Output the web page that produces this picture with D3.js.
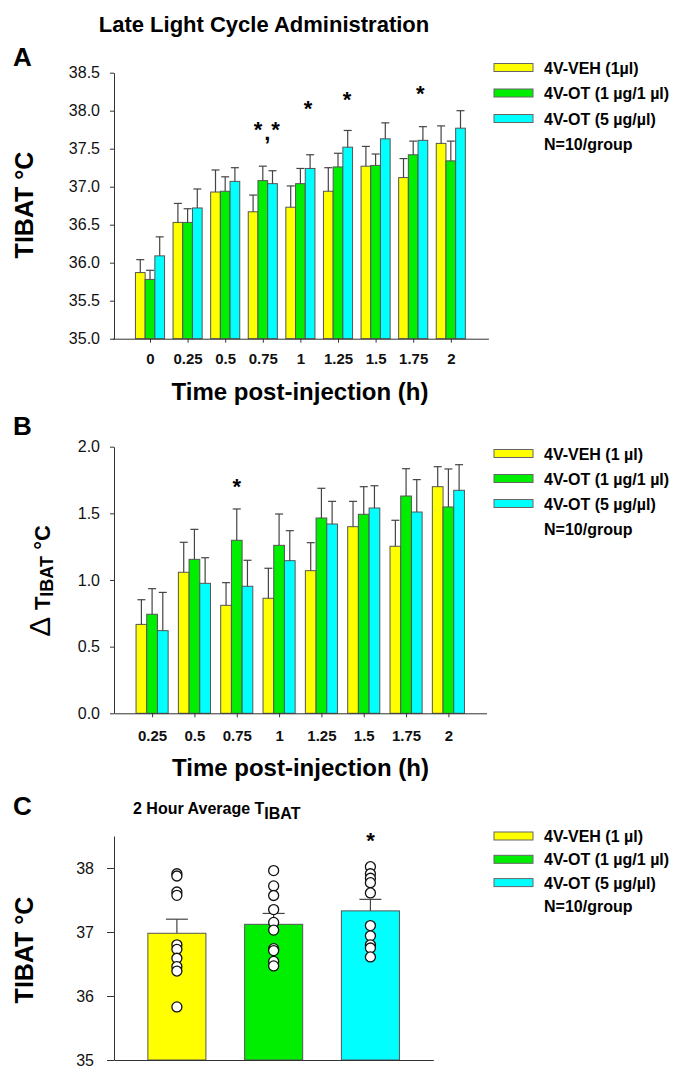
<!DOCTYPE html>
<html lang="en">
<head>
    <meta charset="UTF-8">
    <title>Late Light Cycle Administration</title>
    <script src="https://d3js.org/d3.v7.min.js"></script>
    <style>
        body { margin: 0; background: #fff; }
        text { font-family: Arial, "Liberation Sans", Helvetica, sans-serif; }
    </style>
</head>
<body>
    <svg width="699" height="1066"></svg>

    <script>
        // ---- data ----
        const groups = ["4V-VEH", "4V-OT (1 µg/1 µl)", "4V-OT (5 µg/µl)"];
        const legendA = ["4V-VEH (1µl)", "4V-OT (1 µg/1 µl)", "4V-OT (5 µg/µl)", "N=10/group"];
        const legendB = ["4V-VEH (1 µl)", "4V-OT (1 µg/1 µl)", "4V-OT (5 µg/µl)", "N=10/group"];

        // Panel A: T_IBAT (°C) by time
        const timesA = ["0", "0.25", "0.5", "0.75", "1", "1.25", "1.5", "1.75", "2"];
        const vehA = [35.87, 36.53, 36.93, 36.67, 36.73, 36.94, 37.27, 37.12, 37.57];
        const vehAErr = [0.17, 0.25, 0.29, 0.22, 0.28, 0.31, 0.26, 0.25, 0.23];
        const ot1A = [35.78, 36.53, 36.94, 37.08, 37.04, 37.26, 37.28, 37.42, 37.34];
        const ot1AErr = [0.12, 0.18, 0.19, 0.19, 0.20, 0.18, 0.15, 0.18, 0.26];
        const ot5A = [36.09, 36.72, 37.07, 37.04, 37.24, 37.52, 37.63, 37.61, 37.77];
        const ot5AErr = [0.25, 0.25, 0.18, 0.17, 0.18, 0.22, 0.21, 0.18, 0.23];
        const yTicksA = [35, 35.5, 36, 36.5, 37, 37.5, 38, 38.5];
        // significance marks: category index, offset (in categories), value
        const starsA = [
            { i: 3, off: -0.13, v: 37.81, t: "*" },
            { i: 3, off: 0.34, v: 37.81, t: "*" },
            { i: 3, off: 0.12, v: 37.62, t: "," },
            { i: 4, off: 0.20, v: 38.09, t: "*" },
            { i: 5, off: 0.24, v: 38.21, t: "*" },
            { i: 7, off: 0.19, v: 38.29, t: "*" }
        ];

        // Panel B: change in T_IBAT
        const timesB = ["0.25", "0.5", "0.75", "1", "1.25", "1.5", "1.75", "2"];
        const vehB = [0.667, 1.058, 0.81, 0.863, 1.07, 1.40, 1.253, 1.70];
        const vehBErr = [0.185, 0.225, 0.17, 0.225, 0.21, 0.19, 0.195, 0.15];
        const ot1B = [0.743, 1.155, 1.298, 1.26, 1.465, 1.493, 1.63, 1.548];
        const ot1BErr = [0.192, 0.225, 0.235, 0.235, 0.223, 0.207, 0.205, 0.285];
        const ot5B = [0.62, 0.975, 0.953, 1.145, 1.42, 1.54, 1.51, 1.673];
        const ot5BErr = [0.287, 0.192, 0.195, 0.225, 0.17, 0.167, 0.243, 0.192];
        const yTicksB = [0, 0.5, 1.0, 1.5, 2.0];
        const starsB = [{ i: 2, off: 0, v: 1.735, t: "*" }];

        // Panel C: 2 hour average
        const meanC = [36.98, 37.12, 37.33];
        const errC = [0.22, 0.17, 0.18];
        const ptsVeh = [37.91, 37.875, 37.625, 37.573, 36.80, 36.73, 36.59, 36.46, 36.39, 35.83];
        const ptsOt1 = [37.96, 37.72, 37.57, 37.35, 37.15, 37.03, 36.74, 36.71, 36.54, 36.47];
        const ptsOt5 = [38.02, 37.91, 37.84, 37.77, 37.61, 37.10, 36.94, 36.80, 36.75, 36.61];
        const yTicksC = [35, 36, 37, 38];
        const starsC = [{ i: 2, v: 38.5, t: "*" }];

        const colors = ["#ffff00", "#00ee00", "#00ffff"];
        const ink = "#333";

        const svg = d3.select("svg");

        // ---- helpers ----
        function styleAxis(g, size, weight) {
            g.select(".domain").attr("stroke", ink);
            g.selectAll(".tick line").attr("stroke", ink);
            g.selectAll(".tick text")
                .attr("fill", "#111")
                .style("font-size", size + "px")
                .style("font-weight", weight)
                .style("font-family", "Arial, 'Liberation Sans', sans-serif");
        }

        function groupedBars(means, errs, x, y, bw, capW) {
            const base = y(y.domain()[0]);
            means.forEach((vals, s) => {
                const off = (s - 1) * bw;
                svg.append("g").selectAll("rect")
                    .data(vals)
                    .enter().append("rect")
                    .attr("x", (d, i) => x(i + 1) + off - bw / 2)
                    .attr("y", d => y(d))
                    .attr("width", bw)
                    .attr("height", d => base - y(d))
                    .attr("fill", colors[s])
                    .attr("stroke", "#555")
                    .attr("stroke-width", 1);
            });
            means.forEach((vals, s) => {
                const off = (s - 1) * bw;
                const eg = svg.append("g").attr("stroke", "#444").attr("stroke-width", 1.2);
                vals.forEach((d, i) => {
                    const cx = x(i + 1) + off;
                    eg.append("line").attr("x1", cx).attr("x2", cx)
                        .attr("y1", y(d)).attr("y2", y(d + errs[s][i]));
                    eg.append("line").attr("x1", cx - capW / 2).attr("x2", cx + capW / 2)
                        .attr("y1", y(d + errs[s][i])).attr("y2", y(d + errs[s][i]));
                });
            });
        }

        function stars(list, xf, y) {
            svg.append("g").selectAll("text")
                .data(list)
                .enter().append("text")
                .attr("x", xf)
                .attr("y", d => y(d.v) + (d.t === "," ? 0 : 12))
                .attr("text-anchor", "middle")
                .style("font-size", "22px")
                .style("font-weight", "bold")
                .text(d => d.t);
        }

        function legend(labels, x0, y0, gap) {
            const lg = svg.append("g");
            labels.forEach((lab, i) => {
                const cy = y0 + i * gap;
                if (i < 3) {
                    lg.append("rect")
                        .attr("x", x0).attr("y", cy - 4)
                        .attr("width", 39).attr("height", 8)
                        .attr("fill", colors[i]).attr("stroke", "#666");
                }
                lg.append("text")
                    .attr("x", x0 + 50).attr("y", cy + 6)
                    .style("font-size", "16px").style("font-weight", "bold")
                    .text(lab);
            });
        }

        function label(text, x, y, size) {
            return svg.append("text").attr("x", x).attr("y", y)
                .style("font-size", size + "px").style("font-weight", "bold").text(text);
        }

        // ---- title + panel letters ----
        label("Late Light Cycle Administration", 264, 31.5, 22).attr("text-anchor", "middle");
        label("A", 13, 66, 26);
        label("B", 13, 435, 26);
        label("C", 13, 815, 26);

        // ---- Panel A ----
        const xA = d3.scaleLinear().domain([0, 10]).range([112.4, 488.4]);
        const yA = d3.scaleLinear().domain([35, 38.5]).range([338.7, 72.7]);

        groupedBars([vehA, ot1A, ot5A], [vehAErr, ot1AErr, ot5AErr], xA, yA, 9.7, 8);

        svg.append("g")
            .attr("transform", `translate(0,${yA(35)})`)
            .call(d3.axisBottom(xA).tickValues(d3.range(1, 10))
                .tickFormat(d => timesA[d - 1]).tickSize(4).tickSizeOuter(0).tickPadding(11))
            .call(g => styleAxis(g, 15, "bold"));
        svg.append("g")
            .attr("transform", `translate(114,0)`)
            .call(d3.axisLeft(yA).tickValues(yTicksA).tickFormat(d3.format(".1f"))
                .tickSize(4).tickSizeOuter(0).tickPadding(10))
            .call(g => styleAxis(g, 16, "normal"));

        stars(starsA, d => xA(d.i + 1 + d.off), yA);
        legend(legendA, 494, 67.5, 25.5);

        label("Time post-injection (h)", 300, 400, 24).attr("text-anchor", "middle");
        label("TIBAT °C", 0, 0, 25).attr("text-anchor", "middle")
            .attr("transform", "translate(33,205) rotate(-90)");

        // ---- Panel B ----
        const xB = d3.scaleLinear().domain([0.1, 8.9]).range([114, 486.5]);
        const yB = d3.scaleLinear().domain([0, 2]).range([713.3, 446.7]);

        groupedBars([vehB, ot1B, ot5B], [vehBErr, ot1BErr, ot5BErr], xB, yB, 10.7, 8);

        svg.append("g")
            .attr("transform", `translate(0,${yB(0)})`)
            .call(d3.axisBottom(xB).tickValues(d3.range(1, 9))
                .tickFormat(d => timesB[d - 1]).tickSize(4).tickSizeOuter(0).tickPadding(13))
            .call(g => styleAxis(g, 15, "bold"));
        svg.append("g")
            .attr("transform", `translate(114,0)`)
            .call(d3.axisLeft(yB).tickValues(yTicksB).tickFormat(d3.format(".1f"))
                .tickSize(4).tickSizeOuter(0).tickPadding(10))
            .call(g => styleAxis(g, 16, "normal"));

        stars(starsB, d => xB(d.i + 1 + d.off), yB);
        legend(legendB, 494, 453.5, 25);

        label("Time post-injection (h)", 300.5, 776, 24).attr("text-anchor", "middle");
        const lbB = svg.append("text").attr("text-anchor", "middle")
            .attr("transform", "translate(50,581) rotate(-90)");
        lbB.append("tspan").style("font-size", "30px").text("Δ ");
        lbB.append("tspan").style("font-size", "22px").style("font-weight", "bold").text("T");
        lbB.append("tspan").style("font-size", "18px").style("font-weight", "bold").attr("dy", 3).text("IBAT");
        lbB.append("tspan").style("font-size", "22px").style("font-weight", "bold").attr("dy", -3).text(" °C");

        // ---- Panel C ----
        const xC = d3.scaleLinear().domain([0, 3.3]).range([114, 433.3]);
        const yC = d3.scaleLinear().domain([35, 38.5]).range([1060, 836]);
        const posC = [0.65, 1.65, 2.65];
        const bwC = 0.6;

        svg.append("g").selectAll("rect")
            .data(meanC)
            .enter().append("rect")
            .attr("x", (d, i) => xC(posC[i] - bwC / 2))
            .attr("y", d => yC(d))
            .attr("width", xC(bwC) - xC(0))
            .attr("height", d => yC(35) - yC(d))
            .attr("fill", (d, i) => colors[i])
            .attr("stroke", "#555");

        const eC = svg.append("g").attr("stroke", "#444").attr("stroke-width", 1.2);
        meanC.forEach((d, i) => {
            const cx = xC(posC[i]);
            eC.append("line").attr("x1", cx).attr("x2", cx).attr("y1", yC(d)).attr("y2", yC(d + errC[i]));
            eC.append("line").attr("x1", cx - 11).attr("x2", cx + 11)
                .attr("y1", yC(d + errC[i])).attr("y2", yC(d + errC[i]));
        });

        [ptsVeh, ptsOt1, ptsOt5].forEach((pts, i) => {
            svg.append("g").selectAll("circle")
                .data(pts)
                .enter().append("circle")
                .attr("cx", xC(posC[i]))
                .attr("cy", d => yC(d))
                .attr("r", 5)
                .attr("fill", "#fff")
                .attr("stroke", "#111")
                .attr("stroke-width", 1.3);
        });

        svg.append("g")
            .attr("transform", `translate(0,${yC(35)})`)
            .call(d3.axisBottom(xC).tickValues([]).tickSizeOuter(0))
            .call(g => styleAxis(g, 15, "bold"));
        svg.append("g")
            .attr("transform", `translate(114,0)`)
            .call(d3.axisLeft(yC).tickValues(yTicksC).tickFormat(d3.format("d"))
                .tickSize(7).tickSizeOuter(0).tickPadding(13))
            .call(g => styleAxis(g, 16, "normal"));

        stars(starsC, d => xC(posC[d.i]), yC);
        legend(legendB, 494, 836, 23.3);

        const sub = svg.append("text").attr("x", 133).attr("y", 814)
            .style("font-size", "16px").style("font-weight", "bold");
        sub.append("tspan").text("2 Hour Average T");
        sub.append("tspan").attr("dy", 5).text("IBAT");

        label("TIBAT °C", 0, 0, 25).attr("text-anchor", "middle")
            .attr("transform", "translate(33,950) rotate(-90)");
    </script>
</body>
</html>
